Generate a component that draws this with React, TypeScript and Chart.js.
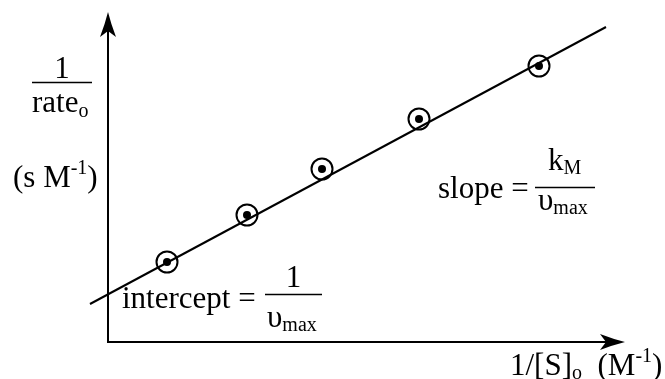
import React, { useEffect, useRef } from "react";
import { Chart, registerables } from "chart.js";

Chart.register(...registerables);

// Lineweaver–Burk plot: 1/rate_o against 1/[S]_o
const invSubstrate = [0.59, 1.39, 2.14, 3.11, 4.31]; // 1/[S]o (M^-1)
const invRate = [0.8, 1.27, 1.73, 2.23, 2.76]; // 1/rate_o (s M^-1)

// Best-fit line, drawn between these two end points
const fitX = [-0.18, 4.98];
const fitY = [0.38, 3.15];

// Extent of the drawn axes (in data units)
const axisXEnd = 5.17;
const axisYEnd = 3.3;

const SERIF = '"Liberation Serif", "Times New Roman", serif';
const MAIN = 31;
const SMALL = 20;

type Run = { t: string; size: number; dy: number };

function drawRuns(ctx: CanvasRenderingContext2D, runs: Run[], x: number, y: number) {
  let cx = x;
  for (const r of runs) {
    ctx.font = `${r.size}px ${SERIF}`;
    ctx.fillText(r.t, cx, y + r.dy);
    cx += ctx.measureText(r.t).width;
  }
  return cx;
}

function runsWidth(ctx: CanvasRenderingContext2D, runs: Run[]) {
  let w = 0;
  for (const r of runs) {
    ctx.font = `${r.size}px ${SERIF}`;
    w += ctx.measureText(r.t).width;
  }
  return w;
}

function hLine(ctx: CanvasRenderingContext2D, x1: number, x2: number, y: number) {
  ctx.beginPath();
  ctx.moveTo(x1, y);
  ctx.lineTo(x2, y);
  ctx.stroke();
}

// Stealth-style arrowhead pointing along (dx, dy)
function arrowHead(ctx: CanvasRenderingContext2D, tx: number, ty: number, dx: number, dy: number) {
  const len = 25;
  const half = 8;
  const notch = 19;
  const px = -dy;
  const py = dx;
  const bx = tx - dx * len;
  const by = ty - dy * len;
  const nx = tx - dx * notch;
  const ny = ty - dy * notch;
  ctx.beginPath();
  ctx.moveTo(tx, ty);
  ctx.quadraticCurveTo(tx - dx * 12 + px * 3, ty - dy * 12 + py * 3, bx + px * half, by + py * half);
  ctx.lineTo(nx, ny);
  ctx.lineTo(bx - px * half, by - py * half);
  ctx.quadraticCurveTo(tx - dx * 12 - px * 3, ty - dy * 12 - py * 3, tx, ty);
  ctx.closePath();
  ctx.fill();
}

const axesPlugin = {
  id: "lbAxes",
  beforeDatasetsDraw(chart: any) {
    const { ctx, scales } = chart;
    const xs = scales.x;
    const ys = scales.y;
    const ox = xs.getPixelForValue(0);
    const oy = ys.getPixelForValue(0);
    const xe = xs.getPixelForValue(axisXEnd);
    const ye = ys.getPixelForValue(axisYEnd);
    ctx.save();
    ctx.strokeStyle = "#000";
    ctx.fillStyle = "#000";
    ctx.lineWidth = 2;
    ctx.lineCap = "butt";
    ctx.beginPath();
    ctx.moveTo(ox, ye + 10);
    ctx.lineTo(ox, oy);
    ctx.lineTo(xe - 10, oy);
    ctx.stroke();
    arrowHead(ctx, ox, ye, 0, -1);
    arrowHead(ctx, xe, oy, 1, 0);
    ctx.restore();
  },
};

const labelsPlugin = {
  id: "lbLabels",
  afterDraw(chart: any) {
    const { ctx } = chart;
    ctx.save();
    ctx.fillStyle = "#000";
    ctx.strokeStyle = "#000";
    ctx.lineWidth = 1.5;
    ctx.textBaseline = "alphabetic";
    ctx.textAlign = "left";

    // y-axis title: 1 / rate_o  (s M^-1)
    {
      const one: Run[] = [{ t: "1", size: MAIN, dy: 0 }];
      drawRuns(ctx, one, 62 - runsWidth(ctx, one) / 2, 78);
      hLine(ctx, 32, 92, 82.5);
      drawRuns(ctx, [
        { t: "rate", size: MAIN, dy: 0 },
        { t: "o", size: SMALL, dy: 5 },
      ], 32, 112);
      drawRuns(ctx, [
        { t: "(s M", size: MAIN, dy: 0 },
        { t: "-1", size: SMALL, dy: -13 },
        { t: ")", size: MAIN, dy: 0 },
      ], 13, 187);
    }

    // x-axis title: 1/[S]_o (M^-1)
    drawRuns(ctx, [
      { t: "1/[S]", size: MAIN, dy: 0 },
      { t: "o", size: SMALL, dy: 4 },
      { t: "  (M", size: MAIN, dy: 0 },
      { t: "-1", size: SMALL, dy: -13 },
      { t: ")", size: MAIN, dy: 0 },
    ], 510, 375);

    // intercept = 1 / υ_max
    {
      drawRuns(ctx, [{ t: "intercept =", size: MAIN, dy: 0 }], 122, 308);
      const one: Run[] = [{ t: "1", size: MAIN, dy: 0 }];
      drawRuns(ctx, one, 293.5 - runsWidth(ctx, one) / 2, 287);
      hLine(ctx, 265, 322, 294.5);
      drawRuns(ctx, [
        { t: "υ", size: MAIN, dy: 0 },
        { t: "max", size: SMALL, dy: 4 },
      ], 267, 327);
    }

    // slope = k_M / υ_max
    {
      drawRuns(ctx, [{ t: "slope =", size: MAIN, dy: 0 }], 438, 198);
      drawRuns(ctx, [
        { t: "k", size: MAIN, dy: 0 },
        { t: "M", size: SMALL, dy: 4 },
      ], 548, 170);
      hLine(ctx, 535, 595, 187.5);
      drawRuns(ctx, [
        { t: "υ", size: MAIN, dy: 0 },
        { t: "max", size: SMALL, dy: 4 },
      ], 538, 210);
    }
    ctx.restore();
  },
};

export default function App() {
  const canvasRef = useRef<HTMLCanvasElement | null>(null);

  useEffect(() => {
    const canvas = canvasRef.current;
    if (!canvas) return;
    const points = invSubstrate.map((x, i) => ({ x, y: invRate[i] }));
    const fit = fitX.map((x, i) => ({ x, y: fitY[i] }));

    const chart = new Chart(canvas, {
      type: "scatter",
      data: {
        datasets: [
          {
            label: "fit",
            type: "line",
            data: fit,
            showLine: true,
            borderColor: "#000",
            borderWidth: 2,
            pointRadius: 0,
            fill: false,
            order: 3,
          } as any,
          {
            label: "rings",
            data: points,
            pointStyle: "circle",
            pointRadius: 10.5,
            pointBorderWidth: 2,
            borderColor: "#000",
            backgroundColor: "rgba(0,0,0,0)",
            order: 2,
          },
          {
            label: "dots",
            data: points,
            pointStyle: "circle",
            pointRadius: 4,
            pointBorderWidth: 0,
            borderColor: "#000",
            backgroundColor: "#000",
            order: 1,
          },
        ],
      },
      options: {
        animation: false,
        responsive: false,
        maintainAspectRatio: false,
        layout: { padding: 0, autoPadding: false },
        plugins: {
          legend: { display: false },
          tooltip: { enabled: false },
          title: { display: false },
        },
        events: [],
        scales: {
          x: { type: "linear", display: false, min: -1.08, max: 5.57 },
          y: { type: "linear", display: false, min: -0.37, max: 3.42 },
        },
      },
      plugins: [axesPlugin, labelsPlugin],
    });
    return () => chart.destroy();
  }, []);

  return (
    <div style={{ position: "fixed", left: 0, top: 0, width: 665, height: 379, background: "#fff" }}>
      <canvas ref={canvasRef} width={665} height={379} style={{ display: "block" }} />
    </div>
  );
}
